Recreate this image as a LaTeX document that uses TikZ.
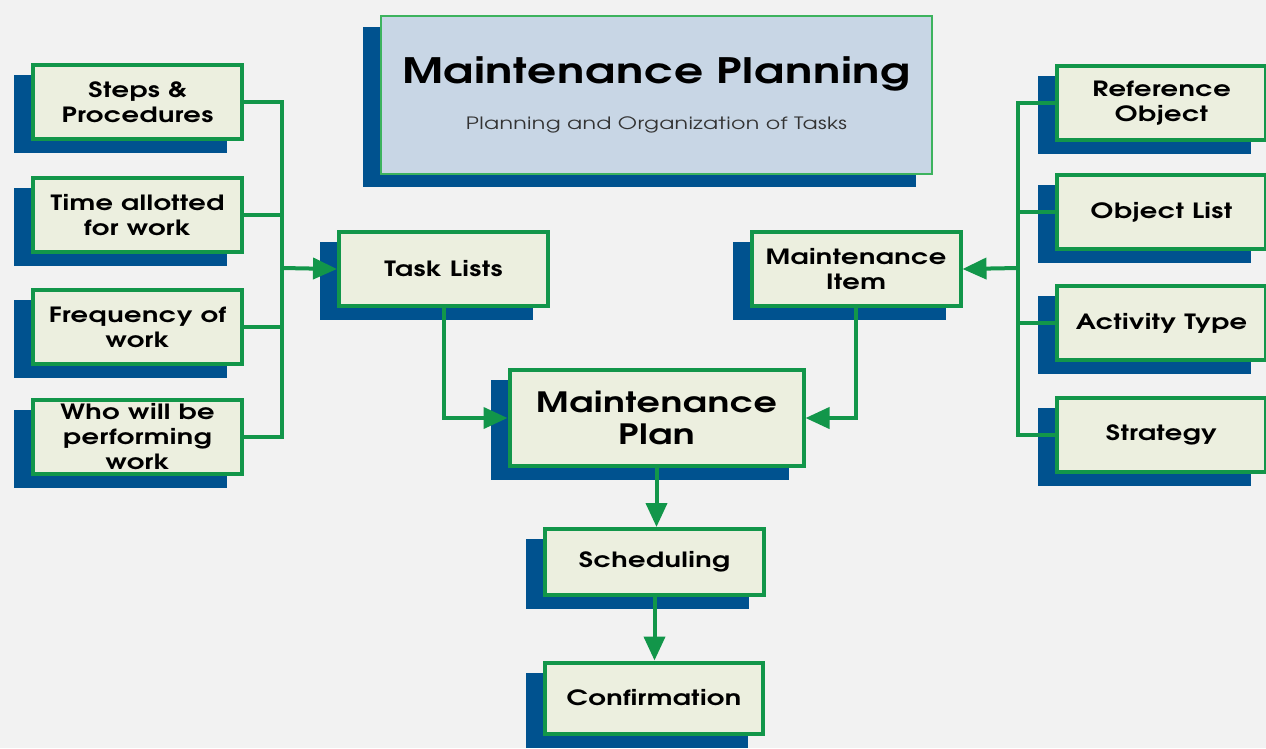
\documentclass[tikz,border=0pt]{standalone}
\usepackage{fontspec}
\setmainfont{TeX Gyre Adventor}[FakeStretch=1.3,LetterSpace=2]
\usetikzlibrary{arrows.meta,shadows}
\definecolor{boxgreen}{HTML}{12964A}
\definecolor{boxfill}{HTML}{ECEFDF}
\definecolor{shadowblue}{HTML}{00528F}
\definecolor{titlefill}{HTML}{C8D6E5}
\definecolor{titleline}{HTML}{3DB35E}
\definecolor{bggray}{HTML}{F2F2F2}

\begin{document}
\begin{tikzpicture}[x=1pt,y=-1pt,
    box/.style={rectangle, draw=boxgreen, fill=boxfill, line width=4pt, minimum width=209pt, minimum height=74pt, inner sep=2pt, align=center, font=\bfseries\fontsize{21}{25}\selectfont, drop shadow={shadow xshift=-17pt, shadow yshift=-12pt, fill=shadowblue, draw=shadowblue, rounded corners=2pt, opacity=1}},
    titlebox/.style={box, draw=titleline, fill=titlefill, line width=2pt, minimum width=551pt, minimum height=158pt, font=\normalfont},
    link/.style={draw=boxgreen, line width=4pt},
    arrow/.style={link, -{Triangle[length=24pt,width=21pt]}}
    ]
    \path[use as bounding box, fill=bggray] (0,0) rectangle (1266,748);

    \node [titlebox] (title) at (656.5,95) {{\bfseries\fontsize{35}{40}\selectfont Maintenance Planning}\\[25pt]{\fontsize{17}{20}\selectfont\color{black!80} Planning and Organization of Tasks}};

    % left column
    \node [box] (steps) at (137.5,102) {Steps \&\\Procedures};
    \node [box] (time) at (137.5,215) {Time allotted\\for work};
    \node [box] (freq) at (137.5,327) {Frequency of\\work};
    \node [box] (who) at (137.5,437) {Who will be\\performing\\work};

    \node [box] (tasks) at (443.5,269) {Task Lists};
    \node [box] (item) at (856,269) {Maintenance\\Item};

    % right column
    \node [box] (refobj) at (1161.5,103) {Reference\\Object};
    \node [box] (objlist) at (1161.5,212) {Object List};
    \node [box] (acttype) at (1161.5,323) {Activity Type};
    \node [box] (strategy) at (1161.5,435) {Strategy};

    \node [box, minimum width=294pt, minimum height=96pt, font=\bfseries\fontsize{28}{32}\selectfont] (plan) at (656.5,418) {Maintenance\\Plan};
    \node [box, minimum width=219pt, minimum height=66pt] (sched) at (654.5,562) {Scheduling};
    \node [box, minimum width=218pt, minimum height=71pt] (conf) at (654,698) {Confirmation};

    \coordinate (lbus) at (282,268);
    \coordinate (rbus) at (1018,268);

    \draw [link] (steps.east) -| (lbus);
    \draw [link] (who.east) -| (lbus);
    \draw [link] (time.east) -- (time.east -| lbus);
    \draw [link] (freq.east) -- (freq.east -| lbus);
    \draw [arrow] (lbus) -- (tasks.west);

    \draw [link] (refobj.west) -| (rbus);
    \draw [link] (strategy.west) -| (rbus);
    \draw [link] (objlist.west) -- (objlist.west -| rbus);
    \draw [link] (acttype.west) -- (acttype.west -| rbus);
    \draw [arrow] (rbus) -- (item.east);

    \draw [arrow] (tasks.south) |- (plan.west);
    \draw [arrow] (item.south) |- (plan.east);
    \draw [arrow] (plan.south) -- (plan.south |- sched.north);
    \draw [arrow] (sched.south) -- (sched.south |- conf.north);

\end{tikzpicture}
\end{document}
